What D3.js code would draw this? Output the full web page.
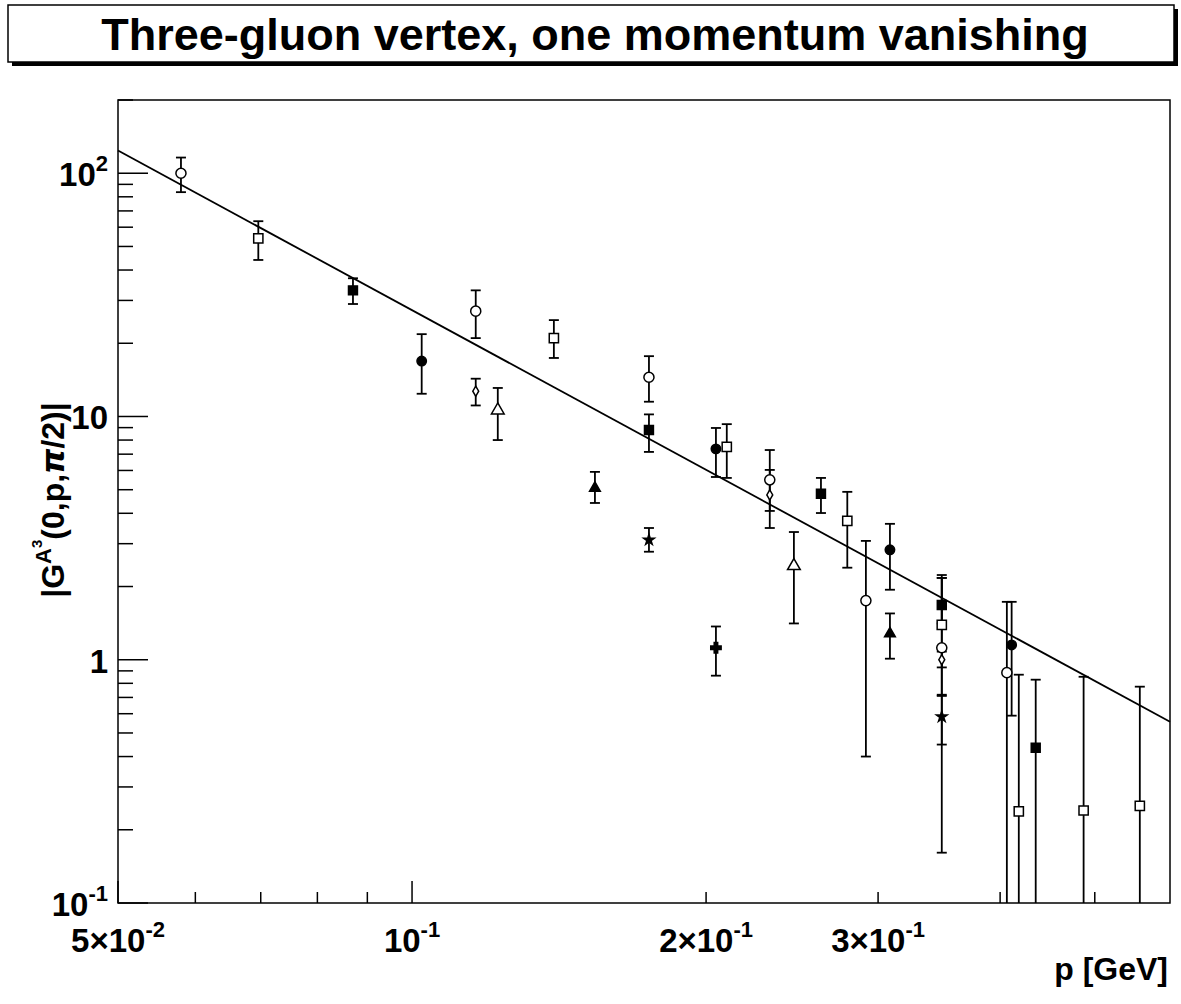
<!DOCTYPE html>
<html><head><meta charset="utf-8">
<script src="https://cdn.jsdelivr.net/npm/d3@7"></script>
<style>body{margin:0;background:#fff}text{font-family:"Liberation Sans",Arial,sans-serif;font-weight:bold}</style>
</head><body><svg id="c" width="1181" height="1004"></svg>
<script>
// p [GeV]
const pVals = [0.058,0.0696,0.087,0.1023,0.1162,0.1162,0.1224,0.1397,0.1539,0.1748,0.1748,0.1748,0.2047,0.2047,0.210,0.2324,0.2324,0.246,0.2622,0.279,0.2915,0.3085,0.3085,0.3486,0.3486,0.3486,0.3486,0.3486,0.4064,0.411,0.418,0.435,0.487,0.556];
const gVals = [100,54,33,16.9,27.1,12.7,10.6,21,5.08,14.5,8.8,3.11,1.12,7.36,7.5,5.49,4.76,2.43,4.81,3.72,1.75,2.83,1.28,1.68,1.39,1.12,1.0,0.583,0.885,1.15,0.238,0.435,0.24,0.251];
const errHi = [116,63.5,37,21.8,33,14.3,13.1,24.9,5.92,17.7,10.2,3.48,1.37,8.97,9.3,7.28,6.03,3.35,5.59,4.9,3.08,3.62,1.55,2.23,2.17,2.17,1.08,0.718,1.73,1.73,0.868,0.828,0.851,0.775];
const errLo = [83.6,44,29,12.4,21,11.1,8.0,17.4,4.41,11.5,7.15,2.78,0.86,5.64,5.59,4.09,3.48,1.41,4.01,2.39,0.40,1.94,1.01,1.41,0.71,0.161,0.93,0.448,0.1,0.589,0.1,0.1,0.1,0.1];
const markers = ["oc","os","fs","fc","oc","od","ot","os","ft","oc","fs","st","cr","fc","os","oc","od","ot","fs","os","oc","fc","ft","fs","os","oc","od","st","oc","fc","os","fs","os","os"];
// fitted power law end points
const fitP = [0.05, 0.597];
const fitG = [124, 0.556];
const xTicks = [0.05,0.1,0.2,0.3];
const xTickLabels = ["5×10","10","2×10","3×10"];
const xTickExp = ["-2","-1","-1","-1"];
const yTicks = [0.1,1,10,100];
const yTickLabels = [["10","-1"],["1",""],["10",""],["10","2"]];

const svg = d3.select("#c");
const m = {l:118, r:1170, t:100, b:903};
const x = d3.scaleLog().domain([0.05,0.597]).range([m.l,m.r]);
const y = d3.scaleLog().domain([0.1,200]).range([m.b,m.t]);

// title box
svg.append("rect").attr("x",12).attr("y",9).attr("width",1166).attr("height",57).attr("fill","#000");
svg.append("rect").attr("x",8).attr("y",5).attr("width",1166).attr("height",57).attr("fill","#fff").attr("stroke","#000").attr("stroke-width",1.5);
svg.append("text").attr("x",595).attr("y",50).attr("text-anchor","middle").attr("font-size",45).text("Three-gluon vertex, one momentum vanishing");

svg.append("rect").attr("x",m.l).attr("y",m.t).attr("width",m.r-m.l).attr("height",m.b-m.t).attr("fill","none").attr("stroke","#000").attr("stroke-width",1.5);

// ticks (bottom and left only)
const xMinor = [];
for (let d of [0.01,0.1]) for (let k=1;k<10;k++){const v=d*k; if(v>=0.05&&v<=0.597) xMinor.push(v);}
xMinor.forEach(v=>{
  const major = [0.05,0.1,0.2,0.3,0.4,0.5].some(t=>Math.abs(t-v)<1e-9) && (v<0.11);
  const L = major?22:11;
  svg.append("line").attr("x1",x(v)).attr("x2",x(v)).attr("y1",m.b).attr("y2",m.b-L).attr("stroke","#000").attr("stroke-width",1.5);
});
const yMinor = [];
for (let d of [0.1,1,10,100]) for (let k=1;k<10;k++){const v=d*k; if(v<=200) yMinor.push(v);}
yMinor.forEach((v,i)=>{
  const L = i%9===0?30:15;
  svg.append("line").attr("x1",m.l).attr("x2",m.l+L).attr("y1",y(v)).attr("y2",y(v)).attr("stroke","#000").attr("stroke-width",1.5);
});
xTicks.forEach((v,i)=>{
  const t = svg.append("text").attr("x",x(v)).attr("y",952).attr("text-anchor","middle").attr("font-size",33);
  t.append("tspan").text(xTickLabels[i]);
  t.append("tspan").attr("dy",-15).attr("font-size",22).text(xTickExp[i]);
});
yTicks.forEach((v,i)=>{
  const t = svg.append("text").attr("x",108).attr("y",y(v)+13).attr("text-anchor","end").attr("font-size",33);
  t.append("tspan").text(yTickLabels[i][0]);
  if (yTickLabels[i][1]) t.append("tspan").attr("dy",-15).attr("font-size",22).text(yTickLabels[i][1]);
});
svg.append("text").attr("x",1168).attr("y",980).attr("text-anchor","end").attr("font-size",32).text("p [GeV]");
const yl = svg.append("text").attr("transform","translate(64,500) rotate(-90)").attr("text-anchor","middle").attr("font-size",32);
yl.append("tspan").text("|G");
yl.append("tspan").attr("dy",-13).attr("font-size",22).text("A");
yl.append("tspan").attr("dy",-9).attr("font-size",15).text("3");
yl.append("tspan").attr("dy",22).text("(0,p,");
yl.append("tspan").attr("font-family","DejaVu Sans").attr("font-style","italic").text("π");
yl.append("tspan").text("/2)|");

// fit line
svg.append("line").attr("x1",x(fitP[0])).attr("y1",y(fitG[0])).attr("x2",x(fitP[1])).attr("y2",y(fitG[1])).attr("stroke","#000").attr("stroke-width",1.8);

// error bars
pVals.forEach((p,i)=>{
  const cx=x(p);
  svg.append("line").attr("x1",cx).attr("x2",cx).attr("y1",y(errHi[i])).attr("y2",y(errLo[i])).attr("stroke","#000").attr("stroke-width",1.8);
  [errHi[i],errLo[i]].forEach(e=>{ if(e>0.1) svg.append("line").attr("x1",cx-5).attr("x2",cx+5).attr("y1",y(e)).attr("y2",y(e)).attr("stroke","#000").attr("stroke-width",1.8);});
});
// markers
const sym = {oc:d3.symbolCircle,fc:d3.symbolCircle,os:d3.symbolSquare,fs:d3.symbolSquare,od:d3.symbolDiamond,ot:d3.symbolTriangle,ft:d3.symbolTriangle,st:d3.symbolStar,cr:d3.symbolCross};
const size = {oc:80,fc:70,os:85,fs:80,od:30,ot:70,ft:50,st:35,cr:60};
pVals.forEach((p,i)=>{
  const k=markers[i], filled=k[0]!=="o";
  svg.append("path").attr("d",d3.symbol(sym[k],size[k])())
    .attr("transform",`translate(${x(p)},${y(gVals[i])})`)
    .attr("fill",filled?"#000":"#fff").attr("stroke","#000").attr("stroke-width",1.5);
});
</script></body></html>
